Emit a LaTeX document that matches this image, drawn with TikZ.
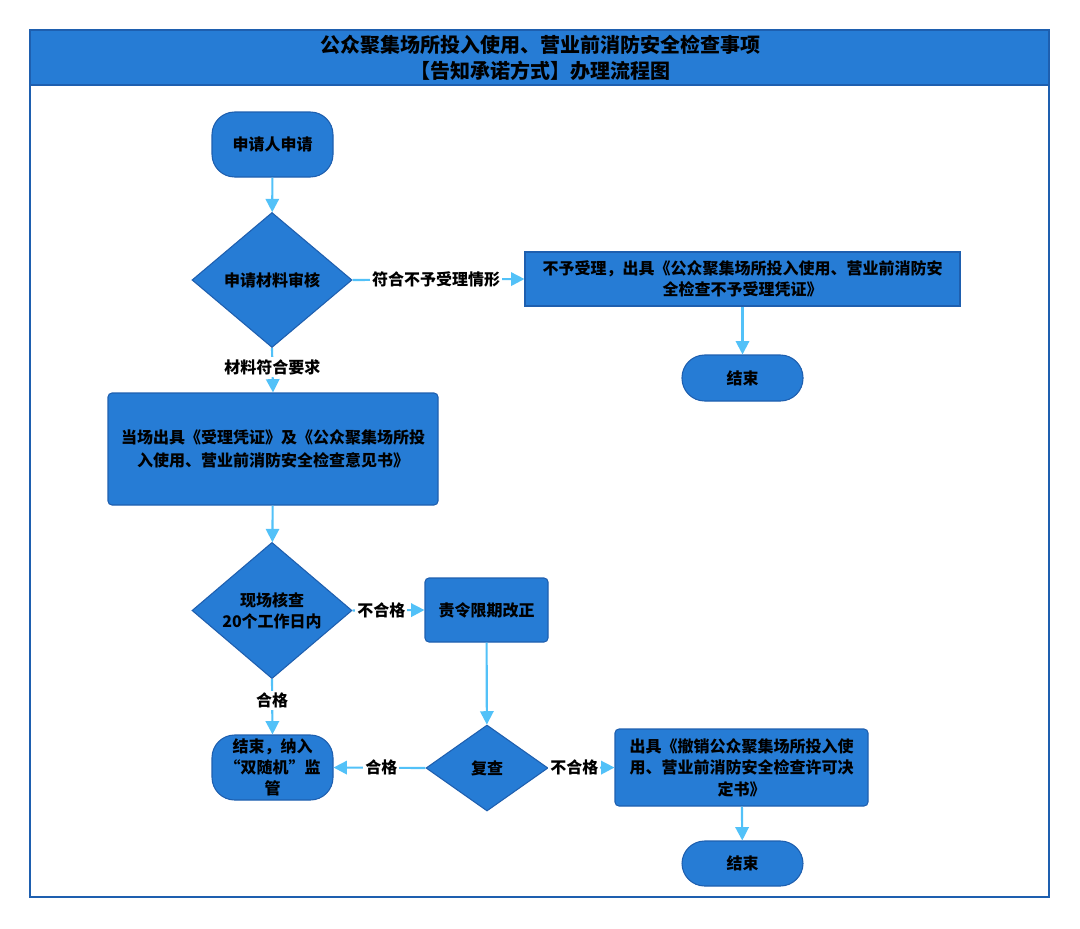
\documentclass[tikz,border=0pt]{standalone}
\usepackage{fontspec}
\setmainfont{Noto Sans CJK SC}
\usetikzlibrary{shapes.geometric,arrows.meta}
\definecolor{boxblue}{RGB}{38,124,213}
\definecolor{edgeblue}{RGB}{30,95,175}
\definecolor{arrowblue}{RGB}{82,193,248}
\begin{document}
\begin{tikzpicture}[x=0.75pt,y=-0.75pt,
  base/.style={draw=edgeblue, fill=boxblue, line width=0.8pt, text=black,
    font=\fontsize{12}{16}\selectfont\bfseries, align=center, inner sep=0pt},
  term/.style={base, rounded corners=17pt},
  proc/.style={base, rounded corners=3pt},
  sqproc/.style={base},
  dec/.style={base, diamond},
  arr/.style={draw=arrowblue, line width=1.6pt, -{Triangle[length=10pt,width=10pt]}},
  lab/.style={fill=white, text=black, font=\fontsize{12}{14}\selectfont\bfseries, inner sep=1.5pt},
  titletext/.style={text=black, font=\fontsize{15}{19.5}\selectfont\bfseries, align=center, inner sep=0pt}
]
\useasboundingbox (0,0) rectangle (1080,928);
% frame and title bar
\fill[boxblue] (30,30) rectangle (1049,85);
\draw[edgeblue, line width=1.1pt] (30,30) rectangle (1049,897);
\draw[edgeblue, line width=1.1pt] (30,85) -- (1049,85);
\node[titletext] (title) at (540,58) {公众聚集场所投入使用、营业前消防安全检查事项\\【告知承诺方式】办理流程图};

% nodes
\node[term, minimum width=121*0.75pt, minimum height=65*0.75pt] (start) at (272.5,144.5) {申请人申请};
\node[dec, minimum width=160*0.75pt, minimum height=135*0.75pt] (d1) at (272,280) {申请材料审核};
\node[sqproc, minimum width=435*0.75pt, minimum height=54*0.75pt] (reject) at (742.5,279) {不予受理，出具《公众聚集场所投入使用、营业前消防安\\全检查不予受理凭证》};
\node[term, minimum width=121*0.75pt, minimum height=46*0.75pt] (end1) at (742.5,378) {结束};
\node[proc, minimum width=330*0.75pt, minimum height=112*0.75pt, font=\fontsize{12}{17}\selectfont\bfseries] (accept) at (273,449) {当场出具《受理凭证》及《公众聚集场所投\\入使用、营业前消防安全检查意见书》};
\node[dec, minimum width=160*0.75pt, minimum height=135*0.75pt] (d2) at (272,610.5) {现场核查\\20个工作日内};
\node[proc, minimum width=123*0.75pt, minimum height=64*0.75pt] (fix) at (486.5,610) {责令限期改正};
\node[term, minimum width=121*0.75pt, minimum height=65*0.75pt] (end2) at (272.5,767.5) {结束，纳入\\“双随机”监\\管};
\node[dec, minimum width=122*0.75pt, minimum height=86*0.75pt] (d3) at (487,768) {复查};
\node[proc, minimum width=253*0.75pt, minimum height=77*0.75pt] (revoke) at (741.5,767.5) {出具《撤销公众聚集场所投入使\\用、营业前消防安全检查许可决\\定书》};
\node[term, minimum width=121*0.75pt, minimum height=45*0.75pt] (end3) at (742.5,863.5) {结束};

% connectors
\draw[arr] (start) -- (d1);
\draw[arr] (d1.east) -- node[lab, pos=0.486] {符合不予受理情形} (reject.west);
\draw[arr] (reject) -- (end1);
\draw[arr] (d1.south) -- node[lab, pos=0.43] {材料符合要求} (accept.north);
\draw[arr] (accept) -- (d2);
\draw[arr] (d2.east) -- node[lab, pos=0.4] {不合格} (fix.west);
\draw[arr] (d2.south) -- node[lab, pos=0.39] {合格} (end2.north);
\draw[arr] (fix) -- (d3);
\draw[arr] (d3.west) -- node[lab, pos=0.48] {合格} (end2.east);
\draw[arr] (d3.east) -- node[lab, pos=0.39] {不合格} (revoke.west);
\draw[arr] (revoke) -- (end3);
\end{tikzpicture}
\end{document}
